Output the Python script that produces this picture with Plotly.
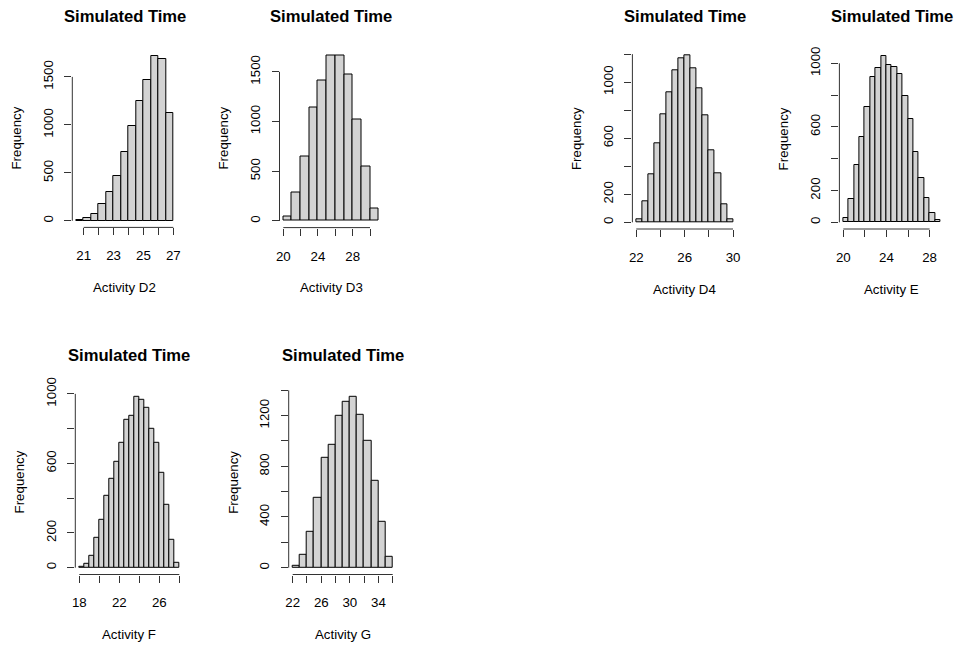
import plotly.graph_objects as go

W, H = 956, 645

# ---------------- data ----------------
panel_names = ["Activity D2", "Activity D3", "Activity D4", "Activity E", "Activity F", "Activity G"]

d2_counts = [7, 24, 69, 180, 305, 465, 718, 985, 1246, 1472, 1722, 1687, 1125]
d3_counts = [47, 288, 650, 1139, 1413, 1668, 1668, 1477, 1025, 543, 124]
d4_counts = [19, 150, 346, 561, 773, 926, 1086, 1174, 1194, 1096, 957, 766, 516, 351, 129, 21]
e_counts = [27, 145, 363, 537, 727, 912, 971, 1048, 987, 977, 933, 792, 652, 444, 281, 153, 59, 15]
f_counts = [6, 21, 69, 174, 278, 412, 514, 608, 721, 849, 874, 984, 965, 917, 800, 721, 546, 360, 159, 29]
g_counts = [16, 105, 284, 553, 871, 971, 1195, 1313, 1350, 1205, 998, 684, 361, 84]

bin_start = [20.5, 20, 22, 20, 18, 22]
bin_width = [0.5, 1, 0.5, 0.5, 0.5, 1]

x_ticks = [[21, 22, 23, 24, 25, 26, 27],
           [20, 22, 24, 26, 28, 30],
           [22, 24, 26, 28, 30],
           [20, 22, 24, 26, 28],
           [18, 20, 22, 24, 26, 28],
           [22, 24, 26, 28, 30, 32, 34, 36]]
x_labels = [[21, 23, 25, 27], [20, 24, 28], [22, 26, 30], [20, 24, 28], [18, 22, 26], [22, 26, 30, 34]]

y_ticks = [[0, 500, 1000, 1500],
           [0, 500, 1000, 1500],
           [0, 200, 400, 600, 800, 1000, 1200],
           [0, 200, 400, 600, 800, 1000],
           [0, 200, 400, 600, 800, 1000],
           [0, 200, 400, 600, 800, 1000, 1200, 1400]]
y_labels = [[0, 500, 1000, 1500], [0, 500, 1000, 1500], [0, 200, 600, 1000],
            [0, 200, 600, 1000], [0, 200, 600, 1000], [0, 400, 800, 1200]]

all_counts = [d2_counts, d3_counts, d4_counts, e_counts, f_counts, g_counts]
main_title = "Simulated Time"
y_title = "Frequency"

# ---------------- layout (pixel boxes of the plot regions) ----------------
boxes = [  # x0, x1, y0(top), y1(bottom)
    (72.3, 177.2, 49.0, 227.4),
    (279.5, 382.5, 48.5, 227.6),
    (632.4, 736.9, 48.3, 229.0),
    (839.4, 944.3, 49.0, 229.0),
    (75.3, 183.3, 389.8, 574.5),
    (288.7, 396.7, 389.8, 574.5),
]
title_shift = [32, 32, 32, 32, 34, 34]

FONT = "Liberation Sans, Arial, sans-serif"
AX = "#333333"
fig = go.Figure()
layout = dict(width=W, height=H, margin=dict(l=0, r=0, t=0, b=0, pad=0), autosize=False,
              paper_bgcolor="white", plot_bgcolor="white", showlegend=False,
              font=dict(family=FONT, size=13.3, color="black"), bargap=0)
shapes, annotations = [], []

for i, counts in enumerate(all_counts):
    k = "" if i == 0 else str(i + 1)
    xa, ya = f"x{k}", f"y{k}"
    n = len(counts)
    s, w = bin_start[i], bin_width[i]
    centers = [s + w * (j + 0.5) for j in range(n)]
    e0, e1 = s, s + w * n
    span = e1 - e0
    ymax = max(counts)
    fig.add_trace(go.Bar(x=centers, y=counts, width=[w] * n, xaxis=xa, yaxis=ya,
                         marker=dict(color="#D3D3D3", line=dict(color="black", width=1)),
                         hoverinfo="x+y"))
    x0, x1, y0, y1 = boxes[i]
    common = dict(showgrid=False, zeroline=False, showline=False, ticks="outside",
                  ticklen=7, tickwidth=1, tickcolor=AX, fixedrange=True, automargin=False,
                  tickfont=dict(family=FONT, size=13.3, color="black"))
    layout[f"xaxis{k}"] = dict(domain=[x0 / W, x1 / W], range=[e0 - 0.04 * span, e1 + 0.04 * span],
                               anchor=ya, tickmode="array", tickvals=x_ticks[i],
                               ticktext=[str(v) if v in x_labels[i] else "" for v in x_ticks[i]],
                               ticklabelstandoff=9, **common)
    layout[f"yaxis{k}"] = dict(domain=[1 - y1 / H, 1 - y0 / H], range=[-0.04 * ymax, 1.04 * ymax],
                               anchor=xa, tickmode="array", tickvals=y_ticks[i],
                               ticktext=[str(v) if v in y_labels[i] else "" for v in y_ticks[i]],
                               tickangle=-90, ticklabelstandoff=6, **common)
    shapes.append(dict(type="line", xref=xa, yref=f"{ya} domain", x0=x_ticks[i][0], x1=x_ticks[i][-1],
                       y0=0, y1=0, line=dict(color=AX, width=1)))
    shapes.append(dict(type="line", xref=f"{xa} domain", yref=ya, x0=0, x1=0,
                       y0=y_ticks[i][0], y1=y_ticks[i][-1], line=dict(color=AX, width=1)))
    annotations.append(dict(text=f"<b>{main_title}</b>", xref=f"{xa} domain", yref=f"{ya} domain",
                            x=0.5, y=1, yshift=title_shift[i], xanchor="center", yanchor="middle",
                            showarrow=False, font=dict(family=FONT, size=16.6, color="black")))
    annotations.append(dict(text=panel_names[i], xref=f"{xa} domain", yref=f"{ya} domain",
                            x=0.5, y=0, yshift=-60, xanchor="center", yanchor="middle",
                            showarrow=False, font=dict(family=FONT, size=13.3, color="black")))
    annotations.append(dict(text=y_title, xref=f"{xa} domain", yref=f"{ya} domain",
                            x=0, y=0.5, xshift=-56, xanchor="center", yanchor="middle", textangle=-90,
                            showarrow=False, font=dict(family=FONT, size=13.3, color="black")))

layout["shapes"] = shapes
layout["annotations"] = annotations
fig.update_layout(**layout)
fig.write_html("out.html", config={"displayModeBar": False},
               post_script="document.body.style.margin='0px';")
